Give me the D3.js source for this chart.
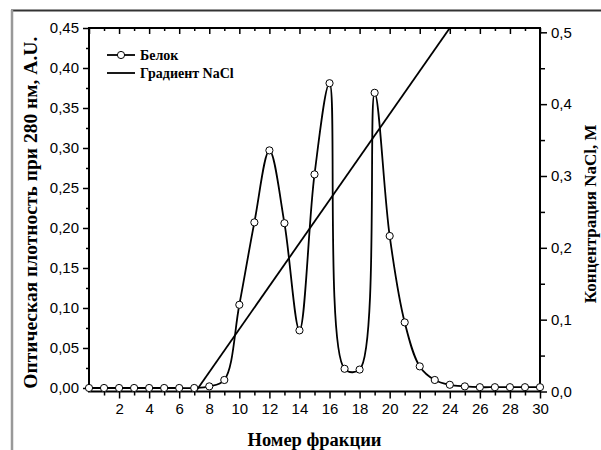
<!DOCTYPE html>
<html>
<head>
<meta charset="utf-8">
<script src="https://cdn.jsdelivr.net/npm/d3@7"></script>
<style>
  body { margin: 0; background: #fff; }
  svg { display: block; }
  .tick text { font-family: "Liberation Sans", Arial, sans-serif; font-size: 15px; fill: #000; }
  .title { font-family: "Liberation Serif", "Times New Roman", serif; font-weight: bold; fill: #000; }
</style>
</head>
<body>
<div id="vis"></div>
<script>
// protein absorbance per fraction (left axis)
var fractions = [0, 1, 2, 3, 4, 5, 6, 7, 8, 9, 10, 11, 12, 13, 14, 15, 16, 17, 18, 19, 20, 21, 22, 23, 24, 25, 26, 27, 28, 29, 30];
var protein = [0.000, 0.000, 0.000, 0.000, 0.000, 0.000, 0.000, 0.000, 0.002, 0.010, 0.104, 0.207, 0.297, 0.206, 0.072, 0.267, 0.381, 0.024, 0.023, 0.369, 0.190, 0.082, 0.027, 0.010, 0.004, 0.002, 0.001, 0.001, 0.001, 0.001, 0.001];

// NaCl gradient (right axis)
var gradFractions = [7.1, 24];
var gradConc = [0, 0.506];

var leftTicks = [0, 0.05, 0.10, 0.15, 0.20, 0.25, 0.30, 0.35, 0.40, 0.45];
var rightTicks = [0, 0.1, 0.2, 0.3, 0.4, 0.5];
var xTicks = [2, 4, 6, 8, 10, 12, 14, 16, 18, 20, 22, 24, 26, 28, 30];

var W = 601, H = 450;
var margin = {left: 89, top: 28, right: 61, bottom: 58.5};
var width = W - margin.left - margin.right;
var height = H - margin.top - margin.bottom;

var svg = d3.select('#vis').append('svg')
    .attr('width', W)
    .attr('height', H);

// outer frame (top and left edge)
svg.append('line').attr('x1', 11).attr('x2', W).attr('y1', 10.5).attr('y2', 10.5)
    .attr('stroke', '#333').attr('stroke-width', 2);
svg.append('line').attr('x1', 12).attr('x2', 12).attr('y1', 10).attr('y2', H)
    .attr('stroke', '#999').attr('stroke-width', 2.5);

var g = svg.append('g')
    .attr('transform', 'translate(' + margin.left + ',' + margin.top + ')');

var x = d3.scaleLinear().domain([0, 30]).range([0, width]);
var yL = d3.scaleLinear().domain([-0.0044, 0.45]).range([height, 0]);
var yR = d3.scaleLinear().domain([0, 0.506]).range([height, 0]);

function fmt(n) { return function(d){ return d3.format('.' + n + 'f')(d).replace('.', ','); }; }

// minor ticks
var xMinor = d3.range(1, 30, 2);
var lMinor = d3.range(0.025, 0.45, 0.05);
var rMinor = d3.range(0.05, 0.5, 0.1);

g.append('g').attr('transform', 'translate(0,' + height + ')')
    .call(d3.axisBottom(x).tickValues(xMinor).tickSize(4).tickFormat(''));
g.append('g').attr('transform', 'translate(0,' + height + ')')
    .call(d3.axisBottom(x).tickValues(xTicks).tickSize(7).tickPadding(5).tickFormat(d3.format('d')));
g.append('g')
    .call(d3.axisTop(x).tickValues(xMinor).tickSize(-3).tickFormat(''));
g.append('g')
    .call(d3.axisTop(x).tickValues(d3.range(0, 31, 2)).tickSize(-6).tickFormat(''));

g.append('g')
    .call(d3.axisLeft(yL).tickValues(lMinor).tickSize(3).tickFormat(''));
g.append('g')
    .call(d3.axisLeft(yL).tickValues(leftTicks).tickSize(6).tickPadding(4).tickFormat(fmt(2)));

g.append('g').attr('transform', 'translate(' + width + ',0)')
    .call(d3.axisRight(yR).tickValues(rMinor).tickSize(5).tickFormat(''));
g.append('g').attr('transform', 'translate(' + width + ',0)')
    .call(d3.axisRight(yR).tickValues(rightTicks).tickSize(7).tickPadding(4).tickFormat(fmt(1)));

g.selectAll('.domain').remove();
g.selectAll('.tick line').attr('stroke', '#000').attr('stroke-width', 1.5);

// plot box
g.append('rect')
    .attr('width', width).attr('height', height)
    .attr('fill', 'none').attr('stroke', '#000').attr('stroke-width', 2);

g.append('clipPath').attr('id', 'clip')
  .append('rect').attr('width', width).attr('height', height);

var plot = g.append('g').attr('clip-path', 'url(#clip)');

// gradient line
var gradData = gradFractions.map(function(f, i){ return {x: f, y: gradConc[i]}; });
plot.append('path')
    .datum(gradData)
    .attr('fill', 'none')
    .attr('stroke', '#000')
    .attr('stroke-width', 1.8)
    .attr('d', d3.line().x(function(d){ return x(d.x); }).y(function(d){ return yR(d.y); }));

// protein curve
var protData = fractions.map(function(f, i){ return {x: f, y: protein[i]}; });
plot.append('path')
    .datum(protData)
    .attr('fill', 'none')
    .attr('stroke', '#000')
    .attr('stroke-width', 1.8)
    .attr('d', d3.line().curve(d3.curveCatmullRom.alpha(0.5)).x(function(d){ return x(d.x); }).y(function(d){ return yL(d.y); }));

g.selectAll('.dot')
    .data(protData)
    .enter().append('circle')
    .attr('class', 'dot')
    .attr('cx', function(d){ return x(d.x); })
    .attr('cy', function(d){ return yL(d.y); })
    .attr('r', 3.6)
    .attr('fill', '#fff')
    .attr('stroke', '#000')
    .attr('stroke-width', 1);

// legend
var leg = g.append('g').attr('transform', 'translate(18,27)');
leg.append('line').attr('x1', 0).attr('x2', 28).attr('y1', 0).attr('y2', 0)
    .attr('stroke', '#000').attr('stroke-width', 1.8);
leg.append('circle').attr('cx', 14).attr('cy', 0).attr('r', 3.6)
    .attr('fill', '#fff').attr('stroke', '#000');
leg.append('text').attr('class', 'title').attr('x', 33).attr('y', 5)
    .style('font-size', '14px').text('Белок');
leg.append('line').attr('x1', 0).attr('x2', 28).attr('y1', 18).attr('y2', 18)
    .attr('stroke', '#000').attr('stroke-width', 1.8);
leg.append('text').attr('class', 'title').attr('x', 33).attr('y', 23)
    .style('font-size', '14px').text('Градиент NaCl');

// axis titles
svg.append('text').attr('class', 'title')
    .attr('x', margin.left + width / 2).attr('y', 446)
    .attr('text-anchor', 'middle')
    .style('font-size', '18.5px')
    .text('Номер фракции');

svg.append('text').attr('class', 'title')
    .attr('transform', 'translate(37,' + (margin.top + height / 2 + 3) + ') rotate(-90)')
    .attr('text-anchor', 'middle')
    .style('font-size', '19.5px')
    .text('Оптическая плотность при 280 нм, A.U.');

svg.append('text').attr('class', 'title')
    .attr('transform', 'translate(596,' + (margin.top + height / 2 + 4) + ') rotate(-90)')
    .attr('text-anchor', 'middle')
    .style('font-size', '17px')
    .text('Концентрация NaCl, M');
</script>
</body>
</html>
